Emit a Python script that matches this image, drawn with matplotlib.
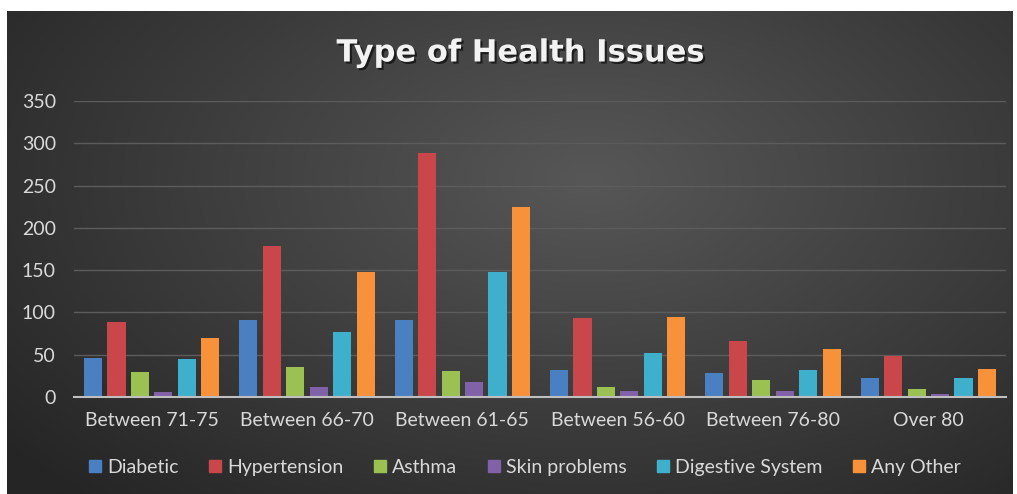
import numpy as np
import matplotlib.pyplot as plt
import matplotlib.patheffects as pe
from matplotlib.lines import Line2D

# data
categories = ['Between 71-75', 'Between 66-70', 'Between 61-65',
              'Between 56-60', 'Between 76-80', 'Over 80']
diabetic = [46, 91, 91, 32, 28, 22]
hypertension = [89, 179, 289, 93, 66, 48]
asthma = [30, 35, 31, 12, 20, 10]
skin_problems = [6, 12, 18, 7, 7, 3]
digestive = [45, 77, 148, 52, 32, 23]
any_other = [70, 148, 225, 95, 57, 33]

series_names = ['Diabetic', 'Hypertension', 'Asthma', 'Skin problems',
                'Digestive System', 'Any Other']
series = [diabetic, hypertension, asthma, skin_problems, digestive, any_other]
colors = ['#4a7fc1', '#c9474a', '#9bc152', '#8162a9', '#3fb0cc', '#f7913a']
yticks = [0, 50, 100, 150, 200, 250, 300, 350]

W, H = 1017, 494
fig = plt.figure(figsize=(W / 100, H / 100), dpi=100)
fig.patch.set_facecolor('white')

# dark radial background
bg = fig.add_axes([7 / W, 0, (1013 - 7) / W, (494 - 11) / H])
yy, xx = np.mgrid[0:1:300j, 0:1:600j]
r = np.sqrt(((xx - 0.58) / 0.75) ** 2 + ((yy - 0.35) / 0.9) ** 2)
shade = 0x57 - (0x57 - 0x25) * np.clip(r, 0, 1)
img = np.dstack([shade, shade, shade]) / 255
bg.imshow(img, aspect='auto', extent=[0, 1, 0, 1], origin='upper')
bg.axis('off')

ax = fig.add_axes([74 / W, (H - 397) / H, (1006 - 74) / W, (397 - 101) / H])
ax.patch.set_alpha(0)

x = np.arange(len(categories))
step = 0.151
width = 0.117
for i, (name, vals) in enumerate(zip(series_names, series)):
    ax.bar(x + (i - 2.5) * step, vals, width, color=colors[i], zorder=3)

ax.set_xlim(-0.5, len(categories) - 0.5)
ax.set_ylim(0, 350)
ax.set_yticks(yticks)
ax.set_xticks(x)
ax.set_xticklabels(categories)
ax.tick_params(length=0, labelsize=14, colors='#d9d9d9')
ax.tick_params(axis='x', pad=11)
ax.tick_params(axis='y', pad=13)
for lab in ax.get_xticklabels() + ax.get_yticklabels():
    lab.set_fontfamily('Lato')
ax.grid(axis='y', color='#5c5c5c', linewidth=1, zorder=0)
for s in ['top', 'right', 'left']:
    ax.spines[s].set_visible(False)
ax.spines['bottom'].set_color('#bfbfbf')
ax.spines['bottom'].set_linewidth(1.5)
ax.spines['bottom'].set_zorder(4)

fig.text(520 / W, 1 - 53 / H, 'Type of Health Issues', ha='center', va='center',
         fontsize=22, fontweight='bold', color='#f2f2f2', family='DejaVu Sans',
         path_effects=[pe.withSimplePatchShadow(offset=(1.5, -1.5),
                                                shadow_rgbFace='black', alpha=0.6)])

handles = [Line2D([], [], marker='s', linestyle='none', markersize=9,
                  markerfacecolor=c, markeredgecolor=c) for c in colors]
leg = fig.legend(handles, series_names, loc='center', ncol=6,
                 bbox_to_anchor=(524 / W, 1 - 467 / H), frameon=False,
                 handletextpad=0.2, columnspacing=1.5, handlelength=0.8,
                 prop={'family': 'Lato', 'size': 14})
for t in leg.get_texts():
    t.set_color('#d9d9d9')

fig.savefig('out.png', dpi=100, facecolor=fig.get_facecolor())
